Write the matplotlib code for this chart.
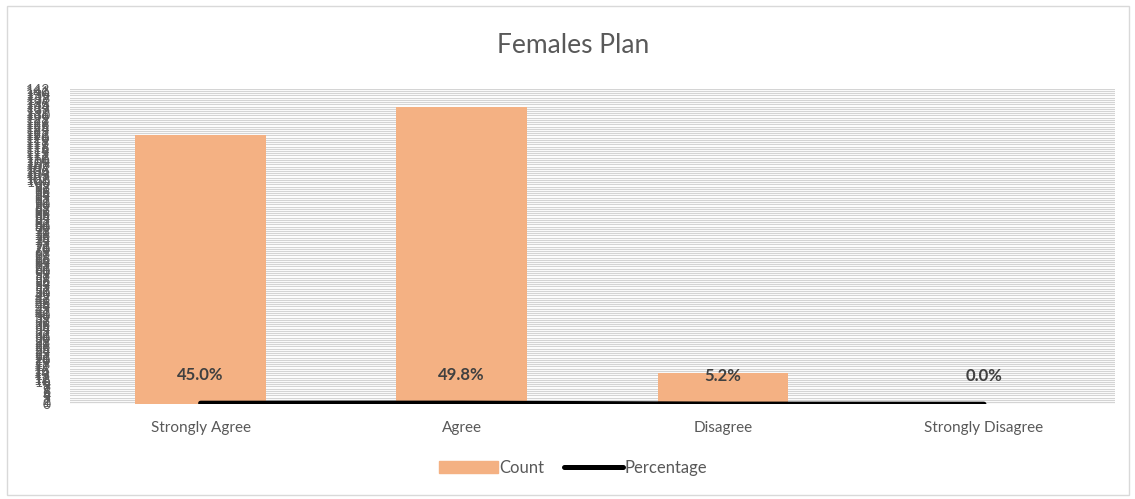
import matplotlib
matplotlib.use("Agg")
import matplotlib.pyplot as plt
from matplotlib.patches import Rectangle
from matplotlib.lines import Line2D
import numpy as np

categories = ["Strongly Agree", "Agree", "Disagree", "Strongly Disagree"]
counts = [121, 134, 14, 0]
percentages = [0.450, 0.498, 0.052, 0.000]
y_max = 142

plt.rcParams['font.family'] = ['Lato', 'DejaVu Sans']

fig = plt.figure(figsize=(11.35, 4.99), dpi=100)
fig.patches.append(Rectangle((0.006, 0.008), 0.989, 0.98, transform=fig.transFigure,
                             fill=False, edgecolor='#d9d9d9', linewidth=1))
ax = fig.add_axes([0.0617, 0.190, 0.9203, 0.632])

x = np.arange(len(categories))
ax.bar(x, counts, width=0.5, color='#f4b183', zorder=3, label='Count')
ax.plot(x, percentages, color='black', linewidth=3.6, solid_capstyle='round',
        zorder=4, label='Percentage')

for xi, p in zip(x, percentages):
    ax.annotate("{:.1f}%".format(p * 100), (xi, p), xytext=(0, 20),
                textcoords='offset points', ha='center', va='center',
                fontsize=12, fontweight='bold', color='#404040', zorder=5)

ax.set_xlim(-0.5, 3.5)
ax.set_ylim(0, y_max)
ax.set_yticks(np.arange(0, y_max + 1, 1))
ax.set_yticklabels([str(v) for v in range(0, y_max + 1)], fontsize=10, color='#595959')
ax.tick_params(axis='y', length=0, pad=14)
ax.set_xticks(x)
ax.set_xticklabels(categories, fontsize=11, color='#595959')
ax.tick_params(axis='x', length=0, pad=12)
ax.grid(axis='y', color='#d4d4d4', linewidth=0.8, zorder=0)
for s in ax.spines.values():
    s.set_visible(False)

fig.text(0.505, 0.908, "Females Plan", ha='center', va='center', fontsize=19, color='#595959')

handles = [Rectangle((0, 0), 1, 1, color='#f4b183'),
           Line2D([0], [0], color='black', linewidth=3.6, solid_capstyle='round')]
fig.legend(handles, ['Count', 'Percentage'], loc='center', bbox_to_anchor=(0.505, 0.062),
           ncol=2, frameon=False, fontsize=12, handlelength=3.5, handletextpad=0.1,
           columnspacing=1.2, labelcolor='#595959')

fig.savefig("out.png", dpi=100)
